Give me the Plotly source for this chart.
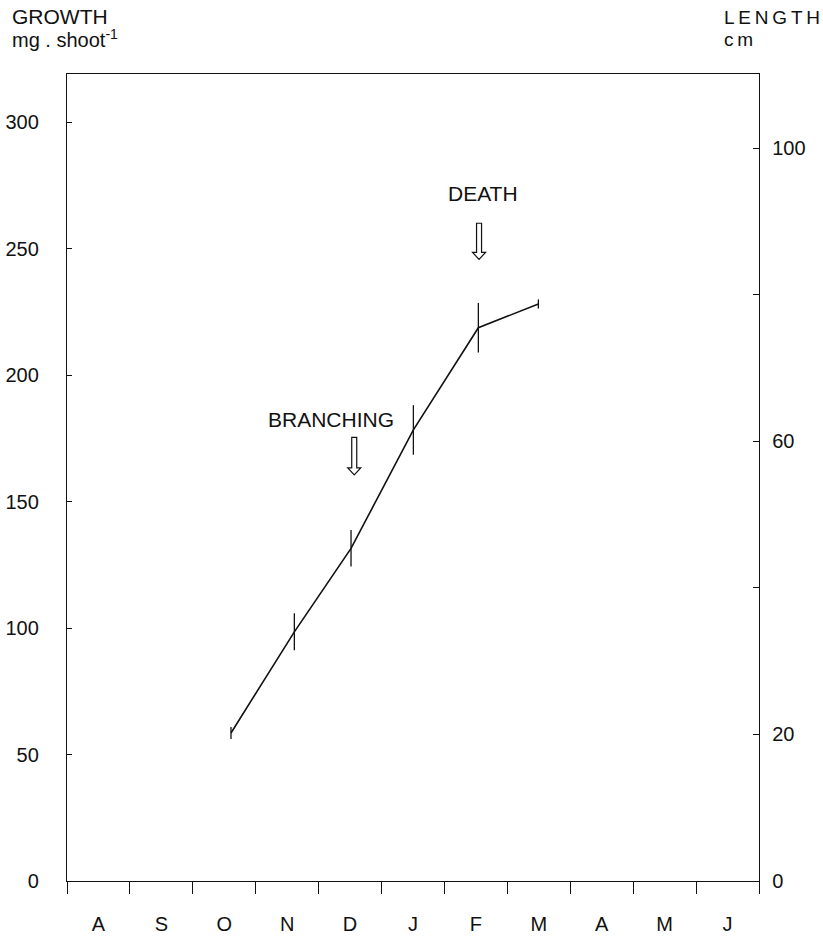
import plotly.graph_objects as go

# ---- data ----
month_labels = ["A", "S", "O", "N", "D", "J", "F", "M", "A", "M", "J"]
sample_month = [2.607, 3.614, 4.515, 5.506, 6.539, 7.493]   # months since 1 Aug
growth = [58.5, 98.5, 131.5, 178.3, 218.7, 228.1]            # mg . shoot-1
growth_err = [2.4, 7.3, 7.2, 9.8, 9.8, 1.8]

left_ticks = [0, 50, 100, 150, 200, 250, 300]
right_ticks = [0, 20, 60, 100]
right_minor_ticks = [40, 80]

events = ["BRANCHING", "DEATH"]
event_month = [4.566, 6.55]       # arrow position
event_tip = [160.5, 245.7]        # arrow tip (growth units)
event_top = [175.4, 260.0]        # arrow tail
label_month = [4.197, 6.614]
label_growth = [182.4, 271.9]

# ---- layout geometry ----
W, H = 823, 936
ML, MR, MT, MB = 67, 64, 74, 55
n_months = len(month_labels)
y_max = 319.0
y2_max = 110.1
plot_w = W - ML - MR
plot_h = H - MT - MB
px_per_month = plot_w / n_months
px_per_unit = plot_h / y_max

FONT = "Arial, Liberation Sans, sans-serif"
INK = "#111111"
THIN = "\u2009"

fig = go.Figure()
fig.add_trace(go.Scatter(
    x=sample_month, y=growth, mode="lines",
    line=dict(color=INK, width=1.6),
    error_y=dict(type="data", array=growth_err, visible=True,
                 color=INK, thickness=1.3, width=0),
    showlegend=False, hoverinfo="skip"))
# dummy trace so the right axis exists
fig.add_trace(go.Scatter(x=[None], y=[None], yaxis="y2", showlegend=False,
                         hoverinfo="skip"))

# hollow arrows
shaft_hw, head_hw, head_len = 2.5, 6.5, 7.0
for xm, tip, top in zip(event_month, event_tip, event_top):
    sx = shaft_hw / px_per_month
    hx = head_hw / px_per_month
    hl = head_len / px_per_unit
    pts = [(xm - sx, top), (xm + sx, top), (xm + sx, tip + hl),
           (xm + hx, tip + hl), (xm, tip), (xm - hx, tip + hl),
           (xm - sx, tip + hl)]
    path = "M " + " L ".join(f"{a},{b}" for a, b in pts) + " Z"
    fig.add_shape(type="path", path=path, xref="x", yref="y",
                  line=dict(color=INK, width=1.2), fillcolor="white")

for txt, xm, yv in zip(events, label_month, label_growth):
    fig.add_annotation(x=xm, y=yv, xref="x", yref="y", text=txt,
                       showarrow=False, font=dict(family=FONT, size=21, color=INK))

# axis titles
def px_x(px):
    return (px - ML) / plot_w

def px_y(py):
    return 1 + (MT - py) / plot_h

fig.add_annotation(x=px_x(10), y=px_y(16), xref="paper", yref="paper",
                   text="GROWTH", showarrow=False, xanchor="left", yanchor="middle",
                   font=dict(family=FONT, size=21, color=INK))
fig.add_annotation(x=px_x(10), y=px_y(39), xref="paper", yref="paper",
                   text="mg . shoot<sup>-1</sup>", showarrow=False, xanchor="left",
                   yanchor="middle", font=dict(family=FONT, size=20, color=INK))
fig.add_annotation(x=px_x(722), y=px_y(18), xref="paper", yref="paper",
                   text=THIN.join("LENGTH"), showarrow=False, xanchor="left",
                   yanchor="middle", font=dict(family=FONT, size=19, color=INK))
fig.add_annotation(x=px_x(722), y=px_y(40), xref="paper", yref="paper",
                   text=THIN.join("cm"), showarrow=False, xanchor="left",
                   yanchor="middle", font=dict(family=FONT, size=19, color=INK))

fig.update_layout(
    width=W, height=H,
    margin=dict(l=ML, r=MR, t=MT, b=MB, pad=0, autoexpand=False),
    paper_bgcolor="white", plot_bgcolor="white",
    font=dict(family=FONT, size=20, color=INK),
    xaxis=dict(range=[0, n_months], automargin=False,
               tickmode="array",
               tickvals=[i + 0.5 for i in range(n_months)],
               ticktext=month_labels, ticks="",
               ticklabelstandoff=25,
               minor=dict(tickmode="linear", tick0=0, dtick=1, ticks="outside",
                          ticklen=12, tickwidth=1.3, tickcolor=INK, showgrid=False),
               showgrid=False, zeroline=False,
               showline=True, linecolor=INK, linewidth=1.4, mirror=True,
               tickfont=dict(family=FONT, size=20, color=INK)),
    yaxis=dict(range=[0, y_max], automargin=False,
               tickmode="array", tickvals=left_ticks,
               ticks="inside", ticklen=5, tickwidth=1.3, tickcolor=INK,
               ticklabelstandoff=23,
               showgrid=False, zeroline=False,
               showline=True, linecolor=INK, linewidth=1.4,
               tickfont=dict(family=FONT, size=20, color=INK)),
    yaxis2=dict(range=[0, y2_max], overlaying="y", side="right", automargin=False,
                tickmode="array", tickvals=right_ticks,
                ticks="inside", ticklen=6, tickwidth=1.3, tickcolor=INK,
                minor=dict(tickmode="array", tickvals=right_minor_ticks,
                           ticks="inside", ticklen=6, tickwidth=1.3,
                           tickcolor=INK, showgrid=False),
                ticklabelstandoff=8,
                showgrid=False, zeroline=False,
                showline=True, linecolor=INK, linewidth=1.4,
                tickfont=dict(family=FONT, size=20, color=INK)),
)

fig.write_html("out.html")
